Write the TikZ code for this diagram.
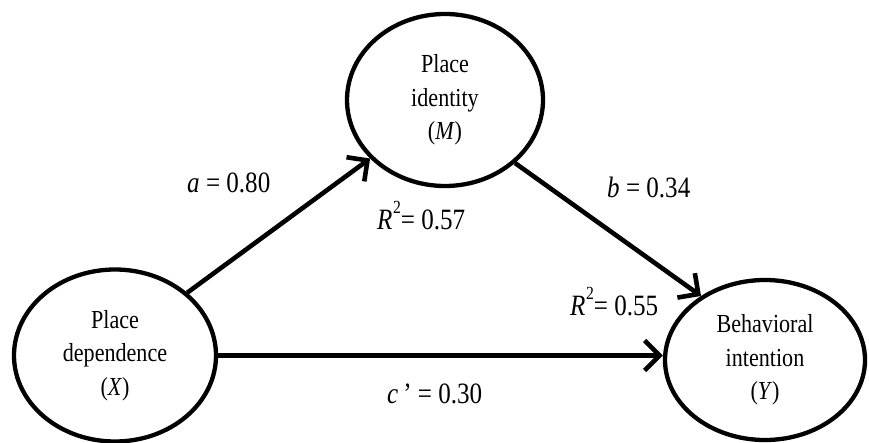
\documentclass[tikz,border=0pt]{standalone}
\usepackage{fontspec}
\setmainfont{Liberation Serif}[FakeStretch=0.85]
\usetikzlibrary{arrows.meta,shapes.geometric}
\begin{document}
\begin{tikzpicture}[x=1pt,y=-1pt,
  var/.style={draw, line width=4.3pt, ellipse, inner sep=0pt, align=center,
    font=\fontsize{26}{33.5}\selectfont},
  effect/.style={line width=4.6pt, -{Straight Barb[length=15pt,width=30pt]}},
  lab/.style={anchor=base west, inner sep=0pt, font=\fontsize{29.5}{30}\selectfont}]
\useasboundingbox (0,0) rectangle (869,443);
\node[var, minimum width=196pt, minimum height=172pt] (M) at (445,100) {Place\\identity\\(\textit{M})};
\node[var, minimum width=202pt, minimum height=172pt] (X) at (115,355.5) {Place\\dependence\\(\textit{X})};
\node[var, minimum width=200pt, minimum height=160pt] (Y) at (765,360) {Behavioral\\intention\\(\textit{Y})};
\draw[effect] (X.41) -- (M.218);
\draw[effect] (M.318) -- (Y.135);
\draw[effect] (X.east) -- (X.east -| Y.west);
\node[lab] (la) at (187,193) {\textit{a} = 0.80};
\node[lab] (lb) at (607,198) {\textit{b} = 0.34};
\node[lab] (lc) at (387,403) {\textit{c}\,’ = 0.30};
\node[lab] (r1) at (377,230) {\textit{R}\kern0.5pt\raisebox{16pt}{\fontsize{18.5}{18}\selectfont 2}= 0.57};
\node[lab] (r2) at (570,315) {\textit{R}\kern0.5pt\raisebox{16pt}{\fontsize{18.5}{18}\selectfont 2}= 0.55};
\end{tikzpicture}
\end{document}
